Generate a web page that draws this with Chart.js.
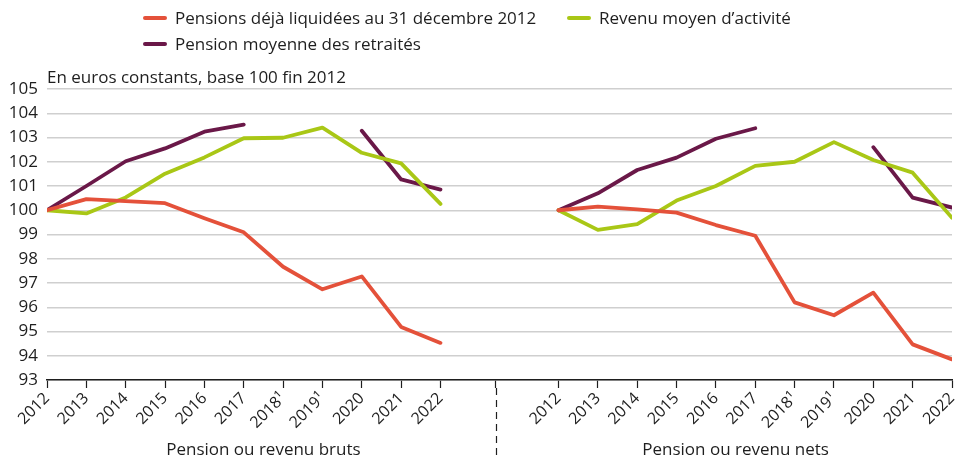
<!DOCTYPE html>
<html><head><meta charset="utf-8">
<script src="https://cdn.jsdelivr.net/npm/chart.js@4"></script>
<style>
html,body{margin:0;padding:0;background:#fff;}
#wrap{position:relative;width:957px;height:458px;font-family:"Open Sans",sans-serif;color:#1e1e1e;}
canvas{position:absolute;left:0;top:0;}
.lg{position:absolute;font-size:17px;line-height:20px;white-space:nowrap;}
.sw{display:inline-block;width:24px;height:4px;border-radius:2px;vertical-align:middle;margin-right:8px;position:relative;top:-1px;}
</style></head>
<body><div id="wrap">
<canvas id="c" width="957" height="458"></canvas>
<div class="lg" style="left:143px;top:8px;"><span class="sw" style="background:#E4513A"></span>Pensions déjà liquidées au 31 décembre 2012</div>
<div class="lg" style="left:567px;top:8px;"><span class="sw" style="background:#A9C716"></span>Revenu moyen d’activité</div>
<div class="lg" style="left:143px;top:34px;"><span class="sw" style="background:#6A1848"></span>Pension moyenne des retraités</div>
</div>
<script>
const years = ['2012','2013','2014','2015','2016','2017','2018¹','2019¹','2020','2021','2022'];
const panelTitles = ['Pension ou revenu bruts','Pension ou revenu nets'];
const yTitle = 'En euros constants, base 100 fin 2012';
const seriesNames = ['Pensions déjà liquidées au 31 décembre 2012','Revenu moyen d’activité','Pension moyenne des retraités'];
// Brut panel
const liquideesBrut = [100,100.46,100.38,100.29,99.67,99.09,97.67,96.74,97.27,95.19,94.53];
const revenuBrut    = [100,99.87,100.53,101.51,102.18,102.97,102.99,103.41,102.37,101.93,100.26];
const moyenneBrut   = [100,101.0,102.02,102.55,103.24,103.53,null,null,103.28,101.27,100.85];
// Net panel
const liquideesNet  = [100,100.15,100.04,99.9,99.39,98.95,96.2,95.67,96.6,94.47,93.85];
const revenuNet     = [100,99.19,99.43,100.4,101.0,101.83,102.0,102.81,102.07,101.55,99.69];
const moyenneNet    = [100,100.7,101.66,102.17,102.95,103.38,null,null,102.6,100.52,100.11];

const RIGHT_OFFSET = 13;
const SEP = 11.4;
function build(left,right){
  const pts = left.map((v,i)=>({x:i,y:v}));
  pts.push({x:SEP,y:null});
  right.forEach((v,i)=>pts.push({x:RIGHT_OFFSET+i,y:v}));
  return pts;
}
const colors = ['#E4513A','#A9C716','#6A1848'];
const tickVals = [];
for(let i=0;i<years.length;i++) tickVals.push(i);
tickVals.push(SEP);
for(let i=0;i<years.length;i++) tickVals.push(RIGHT_OFFSET+i);

const extras = {
  id:'extras',
  afterDraw(chart){
    const {ctx, chartArea, scales:{x}} = chart;
    ctx.save();
    ctx.fillStyle = '#1e1e1e';
    ctx.font = '17px "Open Sans"';
    ctx.textAlign='left'; ctx.textBaseline='alphabetic';
    ctx.fillText(yTitle, chartArea.left, 83);
    ctx.textAlign='center';
    ctx.font = '500 17px "Open Sans"';
    ctx.fillText(panelTitles[0], x.getPixelForValue(5.5), 455);
    ctx.fillText(panelTitles[1], x.getPixelForValue(17.5), 455);
    // dashed separator
    const sx = Math.round(x.getPixelForValue(SEP))+0.5;
    ctx.strokeStyle='#1e1e1e'; ctx.lineWidth=1.2;
    ctx.setLineDash([7,5]);
    ctx.beginPath(); ctx.moveTo(sx, chartArea.bottom+8); ctx.lineTo(sx, 456); ctx.stroke();
    ctx.restore();
  }
};

new Chart(document.getElementById('c'), {
  type:'line',
  data:{datasets:[
    {label:seriesNames[0], data:build(liquideesBrut,liquideesNet), borderColor:colors[0]},
    {label:seriesNames[1], data:build(revenuBrut,revenuNet), borderColor:colors[1]},
    {label:seriesNames[2], data:build(moyenneBrut,moyenneNet), borderColor:colors[2]}
  ].map(d=>Object.assign(d,{borderWidth:3.8,pointRadius:0,tension:0,spanGaps:false,borderCapStyle:'round',borderJoinStyle:'round',fill:false}))},
  options:{
    responsive:false, animation:false,
    layout:{padding:{top:89,right:5,left:0,bottom:0}},
    plugins:{legend:{display:false},tooltip:{enabled:false}},
    scales:{
      x:{type:'linear',min:0,max:23,
        afterBuildTicks(s){ s.ticks = tickVals.map(v=>({value:v})); },
        afterFit(s){ s.height = 78; s.paddingLeft = 0; s.paddingRight = 0; },
        grid:{drawOnChartArea:false,drawTicks:true,tickLength:8,tickColor:'#1e1e1e',tickWidth:1.2},
        border:{color:'#1e1e1e',width:1.5},
        ticks:{autoSkip:false,minRotation:45,maxRotation:45,padding:1,color:'#1e1e1e',font:{family:'Open Sans',size:16},
          callback(v){ if(v<=10 && Number.isInteger(v)) return years[v]; if(v>=RIGHT_OFFSET) return years[v-RIGHT_OFFSET]; return ''; }}
      },
      y:{min:93,max:105,
        afterFit(s){ s.width = 47; },
        ticks:{stepSize:1,padding:9,color:'#1e1e1e',font:{family:'Open Sans',size:17}},
        grid:{color:'#cfcfcf',lineWidth:1.5,drawTicks:false},
        border:{display:false}
      }
    }
  },
  plugins:[extras]
});
</script>
</body></html>
